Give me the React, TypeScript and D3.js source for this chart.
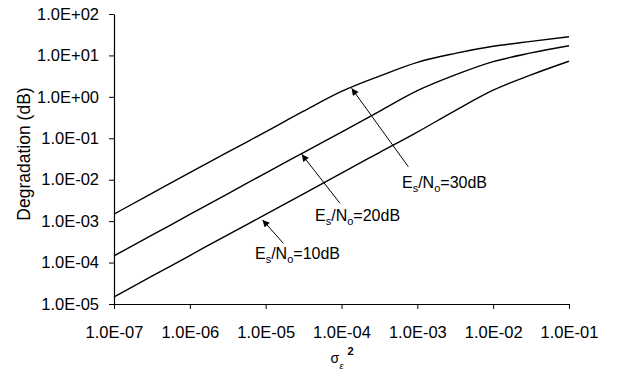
import React, { useEffect, useRef } from 'react';
import * as d3 from 'd3';

// sigma_e^2 sample points (half-decade steps)
const sigma2 = [1e-7, 3.16e-7, 1e-6, 3.16e-6, 1e-5, 3.16e-5, 1e-4, 3.16e-4, 1e-3, 3.16e-3, 1e-2, 3.16e-2, 1e-1];
// Degradation (dB) for each Es/No
const deg30 = [1.48e-3, 4.68e-3, 1.48e-2, 4.62e-2, 0.143, 0.45, 1.35, 3.16, 6.8, 11.2, 16.6, 21.9, 28.2];
const deg20 = [1.45e-4, 4.57e-4, 1.45e-3, 4.57e-3, 1.45e-2, 4.52e-2, 0.141, 0.447, 1.41, 3.39, 7.08, 11.5, 17.2];
const deg10 = [1.48e-5, 4.68e-5, 1.48e-4, 4.68e-4, 1.45e-3, 4.57e-3, 1.45e-2, 4.52e-2, 0.141, 0.468, 1.45, 3.39, 7.24];

const xTickValues = [1e-7, 1e-6, 1e-5, 1e-4, 1e-3, 1e-2, 1e-1];
const xTickLabels = ['1.0E-07', '1.0E-06', '1.0E-05', '1.0E-04', '1.0E-03', '1.0E-02', '1.0E-01'];
const yTickValues = [1e-5, 1e-4, 1e-3, 1e-2, 1e-1, 1, 10, 100];
const yTickLabels = ['1.0E-05', '1.0E-04', '1.0E-03', '1.0E-02', '1.0E-01', '1.0E+00', '1.0E+01', '1.0E+02'];

// annotation labels (data coordinates)
const annLabels = ['30', '20', '10'];
const annTips = [[1.36e-4, 1.61], [2.99e-5, 0.0411], [9.1e-6, 1.07e-3]];
const annTails = [[7.6e-4, 0.0206], [9.55e-5, 2.7e-3], [1.71e-5, 2.92e-4]];
const annText = [[6.28e-4, 6.3e-3], [4.48e-5, 1.0e-3], [7.23e-6, 1.22e-4]];

const W = 618;
const H = 372;
const M = { left: 114, right: 49, top: 14, bottom: 68 };
const FONT = '"Liberation Sans", Arial, Helvetica, sans-serif';

export default function App() {
  const xRef = useRef<SVGGElement>(null);
  const yRef = useRef<SVGGElement>(null);

  const x = d3.scaleLog().domain([1e-7, 1e-1]).range([M.left, W - M.right]);
  const y = d3.scaleLog().domain([1e-5, 1e2]).range([H - M.bottom, M.top]);

  useEffect(() => {
    const xa = d3
      .axisBottom(x)
      .tickValues(xTickValues)
      .tickFormat((_d, i) => xTickLabels[i])
      .tickSize(5)
      .tickSizeOuter(0)
      .tickPadding(17);
    const ya = d3
      .axisLeft(y)
      .tickValues(yTickValues)
      .tickFormat((_d, i) => yTickLabels[i])
      .tickSize(5)
      .tickSizeOuter(0)
      .tickPadding(10);
    const gx = d3.select(xRef.current!);
    gx.call(xa as any);
    const gy = d3.select(yRef.current!);
    gy.call(ya as any);
    [gx, gy].forEach((g) => {
      g.attr('font-family', FONT).attr('font-size', 16.5);
      g.selectAll('text').attr('fill', '#000');
      g.selectAll('line').attr('stroke', '#000').attr('stroke-width', 1);
      g.select('.domain').attr('stroke', '#000').attr('stroke-width', 1.2);
    });
  }, []);

  const line = d3
    .line<[number, number]>()
    .x((d) => x(d[0]))
    .y((d) => y(d[1]))
    .curve(d3.curveMonotoneX);

  const series = [deg30, deg20, deg10].map((vals) => sigma2.map((s, i) => [s, vals[i]] as [number, number]));

  const cx = (M.left + W - M.right) / 2;
  const cy = (M.top + H - M.bottom) / 2;

  return (
    <svg width={W} height={H} style={{ position: 'absolute', left: 0, top: 0, background: '#fff' }}>
      <defs>
        <marker id="arr" viewBox="0 0 10 10" refX="10" refY="5" markerWidth="9" markerHeight="7" markerUnits="userSpaceOnUse" orient="auto">
          <path d="M0,0 L10,5 L0,10 z" fill="#000" />
        </marker>
      </defs>
      <rect x={0} y={0} width={W} height={H} fill="#fff" />
      {series.map((s, i) => (
        <path key={i} d={line(s) || ''} fill="none" stroke="#000" strokeWidth={1.4} />
      ))}
      <g ref={xRef} transform={`translate(0,${H - M.bottom})`} />
      <g ref={yRef} transform={`translate(${M.left},0)`} />

      {annLabels.map((lab, i) => (
        <g key={lab}>
          <line
            x1={x(annTails[i][0])}
            y1={y(annTails[i][1])}
            x2={x(annTips[i][0])}
            y2={y(annTips[i][1])}
            stroke="#000"
            strokeWidth={1}
            markerEnd="url(#arr)"
          />
          <text x={x(annText[i][0])} y={y(annText[i][1])} fontFamily={FONT} fontSize={16} fill="#000">
            <tspan>E</tspan>
            <tspan fontSize={11} dy={4}>s</tspan>
            <tspan dy={-4}>/N</tspan>
            <tspan fontSize={11} dy={4}>o</tspan>
            <tspan dy={-4}>{`=${lab}dB`}</tspan>
          </text>
        </g>
      ))}

      {/* y axis title */}
      <text
        transform={`translate(30,${cy - 5}) rotate(-90)`}
        textAnchor="middle"
        fontFamily={FONT}
        fontSize={17.5}
        fill="#000"
      >
        Degradation (dB)
      </text>

      {/* x axis title: sigma_eps^2 */}
      <g fontFamily={FONT} fill="#000">
        <text x={cx - 11} y={363} fontSize={14}>σ</text>
        <text x={cx - 2} y={369} fontSize={9} fontStyle="italic">ε</text>
        <text x={cx + 6} y={355} fontSize={11} fontWeight="bold">2</text>
      </g>
    </svg>
  );
}
